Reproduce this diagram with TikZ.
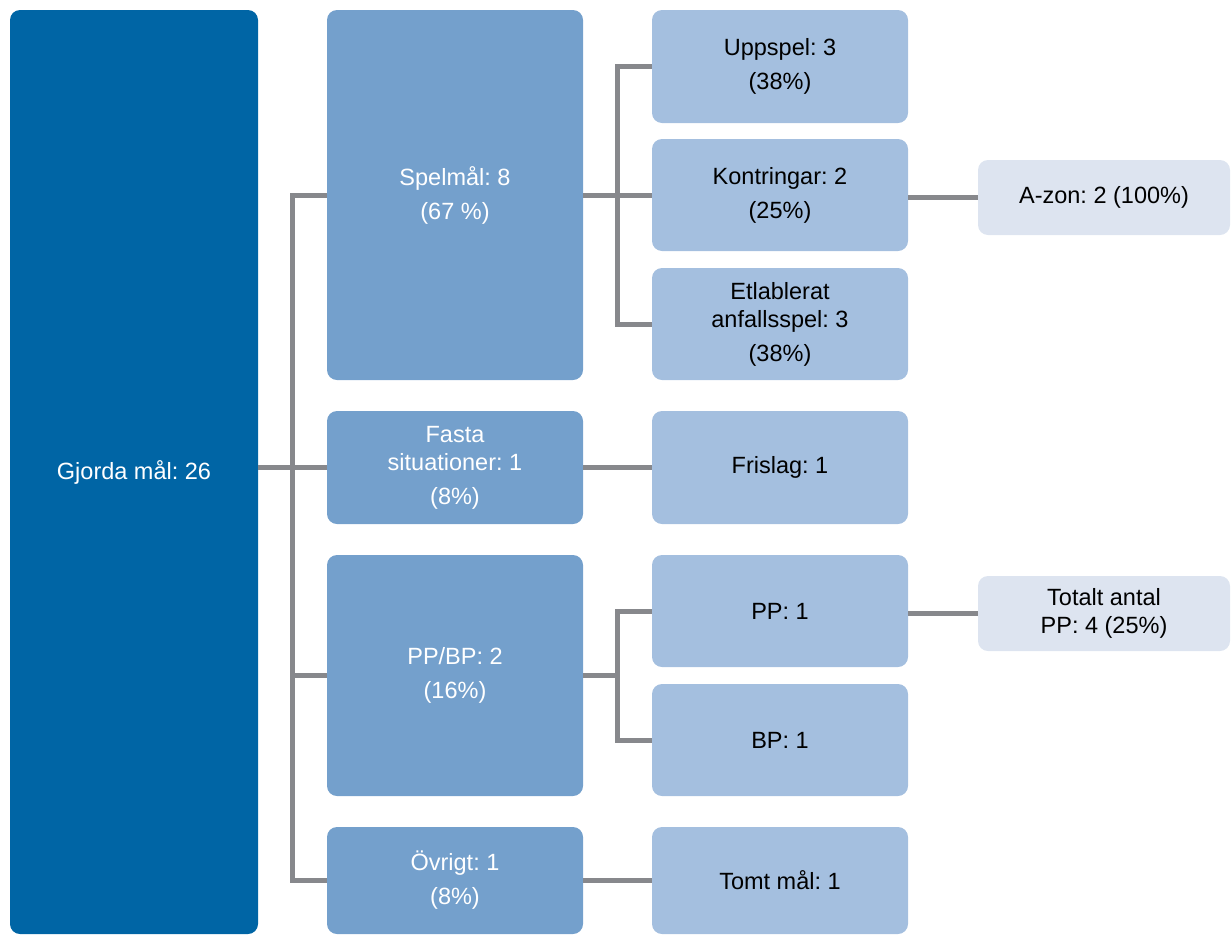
\documentclass[tikz,border=0pt]{standalone}
\usepackage{fontspec}
\setmainfont{Liberation Sans}
\usepackage{tikz}
\usetikzlibrary{positioning}

\definecolor{maalblue}{RGB}{0,101,165}
\definecolor{midblue}{RGB}{116,160,204}
\definecolor{lightblue}{RGB}{164,191,223}
\definecolor{paleblue}{RGB}{221,228,240}
\definecolor{linegray}{RGB}{135,136,140}

\tikzset{
  box/.style={rectangle, rounded corners=10pt, inner sep=0pt, align=center,
    font=\fontsize{23.5}{28}\selectfont\frenchspacing},
  rootbox/.style={box, fill=maalblue, text=white},
  midbox/.style={box, fill=midblue, text=white, minimum width=256pt},
  subbox/.style={box, fill=lightblue, text=black, minimum width=256pt},
  endbox/.style={box, fill=paleblue, text=black, minimum width=252pt, minimum height=75pt},
  conn/.style={draw=linegray, line width=5pt}
}

\begin{document}
\begin{tikzpicture}[x=1pt, y=-1pt]
\useasboundingbox (0,0) rectangle (1231,935);

% Rot
\node[rootbox, minimum width=248pt, minimum height=924pt] (gjorda) at (134,472) {Gjorda mål: 26};

% Huvudkategorier
\node[midbox, minimum height=370pt] (spel) at (455,195) {Spelmål: 8\\[6pt](67 \%)};
\node[midbox, minimum height=113pt] (fasta) at (455,467.5) {Fasta\\situationer: 1\\[6pt](8\%)};
\node[midbox, minimum height=241pt] (ppbp) at (455,675.5) {PP/BP: 2\\[6pt](16\%)};
\node[midbox, minimum height=107pt] (ovrigt) at (455,880.5) {Övrigt: 1\\[6pt](8\%)};

% Underkategorier
\node[subbox, minimum height=113pt] (uppspel) at (780,66.5) {Uppspel: 3\\[6pt](38\%)};
\node[subbox, minimum height=112pt] (kontr) at (780,195) {Kontringar: 2\\[6pt](25\%)};
\node[subbox, minimum height=112pt] (etabl) at (780,324) {Etlablerat\\anfallsspel: 3\\[6pt](38\%)};
\node[subbox, minimum height=113pt] (frislag) at (780,467.5) {Frislag: 1};
\node[subbox, minimum height=112pt] (pp) at (780,611) {PP: 1};
\node[subbox, minimum height=112pt] (bp) at (780,740) {BP: 1};
\node[subbox, minimum height=107pt] (tomt) at (780,880.5) {Tomt mål: 1};

% Tillägg
\node[endbox] (azon) at (1104,197.5) {A-zon: 2 (100\%)};
\node[endbox] (totalt) at (1104,613.5) {Totalt antal\\PP: 4 (25\%)};

% Linjer från roten
\draw[conn] (gjorda.east |- fasta.west) -- (fasta.west);
\draw[conn] (spel.west) -- ++(-34.5,0) |- (ovrigt.west);
\draw[conn] (ppbp.west) -- ++(-34.5,0);

% Linjer till underkategorier
\draw[conn] (spel.east) -- (kontr.west);
\draw[conn] (uppspel.west) -- ++(-34.5,0) |- (etabl.west);
\draw[conn] (fasta.east) -- (frislag.west);
\draw[conn] (ppbp.east) -- ++(35,0);
\draw[conn] (pp.west) -- ++(-34.5,0) |- (bp.west);
\draw[conn] (ovrigt.east) -- (tomt.west);

% Linjer till tillägg
\draw[conn] (kontr.east |- azon.west) -- (azon.west);
\draw[conn] (pp.east |- totalt.west) -- (totalt.west);

\end{tikzpicture}
\end{document}
